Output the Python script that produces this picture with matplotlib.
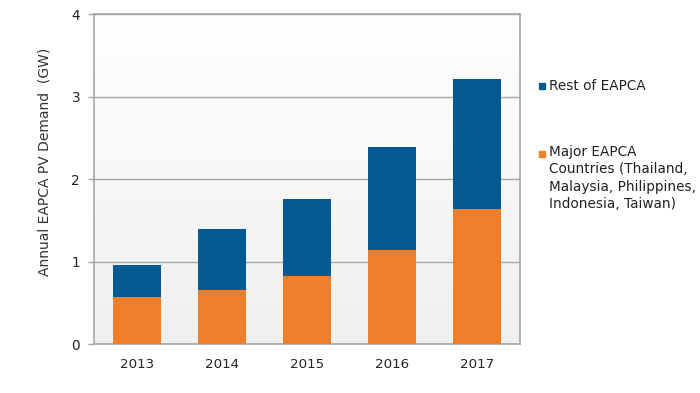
import numpy as np
import matplotlib
matplotlib.use('Agg')
import matplotlib.pyplot as plt
from matplotlib.patches import Rectangle

years = ['2013', '2014', '2015', '2016', '2017']
major = [0.57, 0.65, 0.83, 1.14, 1.64]
rest = [0.39, 0.74, 0.93, 1.25, 1.57]

orange = '#f07f2b'
blue = '#035a93'
grey = '#a6a6a6'

plt.rcParams['font.family'] = 'DejaVu Sans'

fig = plt.figure(figsize=(7, 3.93), dpi=100)
ax = fig.add_axes([94/700, 1-344/393, 426/700, 330/393])

# background gradient, white at top to light grey at bottom
grad = np.linspace(1, 0, 256).reshape(-1, 1)
ax.imshow(grad, extent=[-0.5, 4.5, 0, 4], aspect='auto', cmap=matplotlib.colors.LinearSegmentedColormap.from_list('g', ['#efefef', '#ffffff']), zorder=0)

x = np.arange(len(years))
ax.bar(x, major, width=0.565, color=orange, zorder=3)
ax.bar(x, rest, width=0.565, bottom=major, color=blue, zorder=3)

ax.set_xlim(-0.5, 4.5)
ax.set_ylim(0, 4)
ax.set_yticks([0, 1, 2, 3, 4])
ax.set_xticks(x)
ax.set_xticklabels(years)
ax.yaxis.grid(True, color=grey, linewidth=1, zorder=1)
ax.set_axisbelow(True)
for s in ax.spines.values():
    s.set_color(grey)
    s.set_linewidth(1.2)
ax.tick_params(axis='x', length=0, pad=10, labelsize=9.6, colors='#222222')
ax.tick_params(axis='y', length=4, width=1, color=grey, pad=6, labelsize=9.8, labelcolor='#222222')
fig.text(45/700, 1-162/393, 'Annual EAPCA PV Demand  (GW)', fontsize=10, color='#333333',
         rotation=90, ha='center', va='center')

# legend drawn by hand
fig.patches.append(Rectangle((539/700, 1-89/393), 6/700, 6/393, color=blue, transform=fig.transFigure))
fig.text(549/700, 1-86/393, 'Rest of EAPCA', fontsize=9.8, va='center', color='#222222')
fig.patches.append(Rectangle((539/700, 1-157/393), 6/700, 6/393, color=orange, transform=fig.transFigure))
fig.text(549/700, 1-145/393, 'Major EAPCA\nCountries (Thailand,\nMalaysia, Philippines,\nIndonesia, Taiwan)',
         fontsize=9.8, va='top', color='#222222', linespacing=1.3)

fig.savefig('out.png', dpi=100)
